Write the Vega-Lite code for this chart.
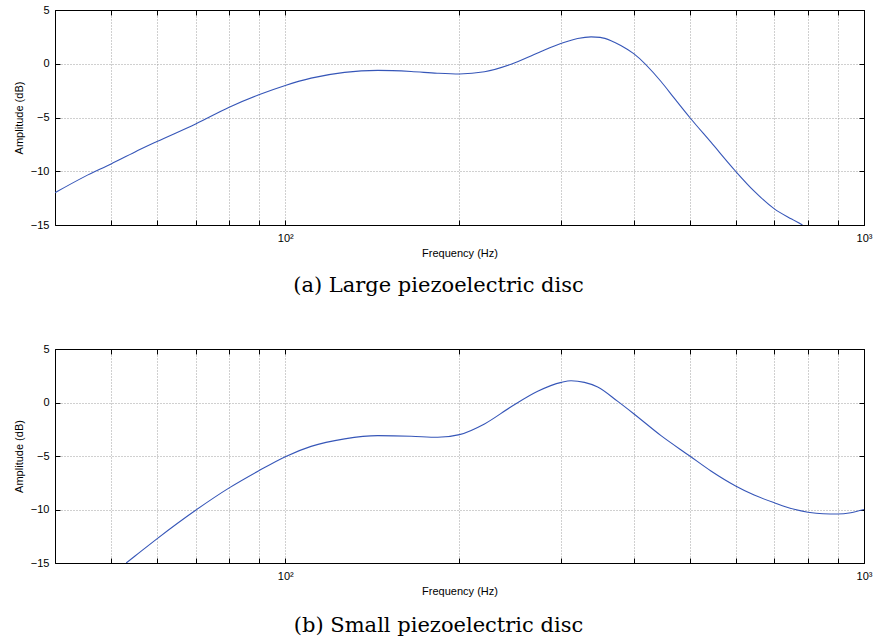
{
  "$schema": "https://vega.github.io/schema/vega-lite/v6.json",
  "background": "white",
  "padding": {"left": 12, "top": 3, "right": 8, "bottom": 5},
  "spacing": 45,
  "config": {
    "view": {"stroke": "black", "strokeWidth": 1},
    "axis": {
      "domainColor": "black", "domainWidth": 1, "tickColor": "black", "tickWidth": 1,
      "labelColor": "black", "labelFont": "Liberation Sans", "labelFontSize": 11,
      "titleFont": "Liberation Sans", "titleFontSize": 11, "titleFontWeight": "normal", "titleColor": "black",
      "gridColor": "#a0a0a0", "gridDash": [1, 2], "gridWidth": 1, "gridOpacity": 1
    },
    "title": {"font": "DejaVu Serif", "fontSize": 21, "fontWeight": "normal", "color": "black"}
  },
  "datasets": {
    "a": [
      {"f": 40, "db": -12.0}, {"f": 45, "db": -10.5}, {"f": 50, "db": -9.32}, {"f": 55, "db": -8.2},
      {"f": 60, "db": -7.24}, {"f": 70, "db": -5.6}, {"f": 80, "db": -4.04}, {"f": 90, "db": -2.89},
      {"f": 100, "db": -2.02}, {"f": 110.8, "db": -1.34}, {"f": 126.6, "db": -0.8}, {"f": 144.5, "db": -0.62},
      {"f": 165, "db": -0.72}, {"f": 183, "db": -0.88}, {"f": 200, "db": -0.95}, {"f": 220.9, "db": -0.75},
      {"f": 245.6, "db": -0.05}, {"f": 273, "db": 1.0}, {"f": 300, "db": 1.9}, {"f": 320, "db": 2.35},
      {"f": 337.6, "db": 2.5}, {"f": 350, "db": 2.45}, {"f": 365.5, "db": 2.15}, {"f": 380, "db": 1.7},
      {"f": 400, "db": 0.94}, {"f": 445.9, "db": -1.65}, {"f": 470, "db": -3.2},
      {"f": 500, "db": -5.0}, {"f": 543.9, "db": -7.3}, {"f": 600, "db": -10.0}, {"f": 646, "db": -11.85},
      {"f": 700, "db": -13.5}, {"f": 750, "db": -14.45}, {"f": 783, "db": -15.0}
    ],
    "b": [
      {"f": 53.1, "db": -15.0}, {"f": 55, "db": -14.35}, {"f": 60, "db": -12.74}, {"f": 70, "db": -10.07},
      {"f": 80, "db": -7.98}, {"f": 90, "db": -6.38}, {"f": 100, "db": -5.06}, {"f": 110.8, "db": -4.1},
      {"f": 126.6, "db": -3.4}, {"f": 144.5, "db": -3.1}, {"f": 165, "db": -3.15}, {"f": 183.4, "db": -3.25},
      {"f": 200, "db": -3.0}, {"f": 220.9, "db": -2.0}, {"f": 245.6, "db": -0.4}, {"f": 273, "db": 1.05},
      {"f": 300, "db": 1.88}, {"f": 311.7, "db": 2.03}, {"f": 328.8, "db": 1.88}, {"f": 346.6, "db": 1.45},
      {"f": 375.4, "db": 0.1}, {"f": 400, "db": -1.05}, {"f": 445.9, "db": -3.1}, {"f": 500, "db": -5.0},
      {"f": 543.9, "db": -6.4}, {"f": 600, "db": -7.8}, {"f": 646, "db": -8.65}, {"f": 700, "db": -9.37},
      {"f": 757.6, "db": -9.98}, {"f": 800, "db": -10.25}, {"f": 850, "db": -10.4}, {"f": 900, "db": -10.42},
      {"f": 949, "db": -10.3}, {"f": 1000, "db": -10.0}
    ]
  },
  "vconcat": [
    {
      "width": 809, "height": 215,
      "title": {"text": "(a) Large piezoelectric disc", "orient": "bottom", "anchor": "middle", "dx": -21, "offset": 17},
      "resolve": {"axis": {"x": "independent", "y": "independent"}},
      "layer": [
        {
          "data": {"name": "a"},
          "mark": {"type": "line", "color": "#3656b8", "strokeWidth": 1.1, "clip": true, "interpolate": "monotone"},
          "encoding": {
            "x": {"field": "f", "type": "quantitative", "scale": {"type": "log", "domain": [40, 1000], "nice": false},
              "axis": {"orient": "bottom", "title": "Frequency (Hz)", "values": [50,60,70,80,90,100,200,300,400,500,600,700,800,900,1000],
                "labelExpr": "datum.value == 100 ? '10²' : datum.value == 1000 ? '10³' : ''", "labelOverlap": false, "labelFlush": false,
                "grid": true, "tickSize": -5, "labelPadding": 12, "titlePadding": 4}},
            "y": {"field": "db", "type": "quantitative", "scale": {"domain": [-15, 5], "nice": false},
              "axis": {"orient": "left", "title": "Amplitude (dB)", "values": [-15,-10,-5,0,5], "grid": true, "tickSize": -5, "labelPadding": 11, "titlePadding": 6}}
          }
        },
        {
          "data": {"name": "a"},
          "mark": {"type": "line", "strokeOpacity": 0},
          "encoding": {
            "x": {"field": "f", "type": "quantitative", "scale": {"type": "log", "domain": [40, 1000], "nice": false},
              "axis": {"orient": "top", "title": null, "labels": false, "grid": false, "tickSize": -5, "values": [50,60,70,80,90,100,200,300,400,500,600,700,800,900,1000]}},
            "y": {"field": "db", "type": "quantitative", "scale": {"domain": [-15, 5], "nice": false},
              "axis": {"orient": "right", "title": null, "labels": false, "grid": false, "tickSize": -5, "values": [-15,-10,-5,0,5]}}
          }
        }
      ]
    },
    {
      "width": 809, "height": 214,
      "title": {"text": "(b) Small piezoelectric disc", "orient": "bottom", "anchor": "middle", "dx": -21, "offset": 19},
      "resolve": {"axis": {"x": "independent", "y": "independent"}},
      "layer": [
        {
          "data": {"name": "b"},
          "mark": {"type": "line", "color": "#3656b8", "strokeWidth": 1.1, "clip": true, "interpolate": "monotone"},
          "encoding": {
            "x": {"field": "f", "type": "quantitative", "scale": {"type": "log", "domain": [40, 1000], "nice": false},
              "axis": {"orient": "bottom", "title": "Frequency (Hz)", "values": [50,60,70,80,90,100,200,300,400,500,600,700,800,900,1000],
                "labelExpr": "datum.value == 100 ? '10²' : datum.value == 1000 ? '10³' : ''", "labelOverlap": false, "labelFlush": false,
                "grid": true, "tickSize": -5, "labelPadding": 12, "titlePadding": 4}},
            "y": {"field": "db", "type": "quantitative", "scale": {"domain": [-15, 5], "nice": false},
              "axis": {"orient": "left", "title": "Amplitude (dB)", "values": [-15,-10,-5,0,5], "grid": true, "tickSize": -5, "labelPadding": 11, "titlePadding": 6}}
          }
        },
        {
          "data": {"name": "b"},
          "mark": {"type": "line", "strokeOpacity": 0},
          "encoding": {
            "x": {"field": "f", "type": "quantitative", "scale": {"type": "log", "domain": [40, 1000], "nice": false},
              "axis": {"orient": "top", "title": null, "labels": false, "grid": false, "tickSize": -5, "values": [50,60,70,80,90,100,200,300,400,500,600,700,800,900,1000]}},
            "y": {"field": "db", "type": "quantitative", "scale": {"domain": [-15, 5], "nice": false},
              "axis": {"orient": "right", "title": null, "labels": false, "grid": false, "tickSize": -5, "values": [-15,-10,-5,0,5]}}
          }
        }
      ]
    }
  ]
}
